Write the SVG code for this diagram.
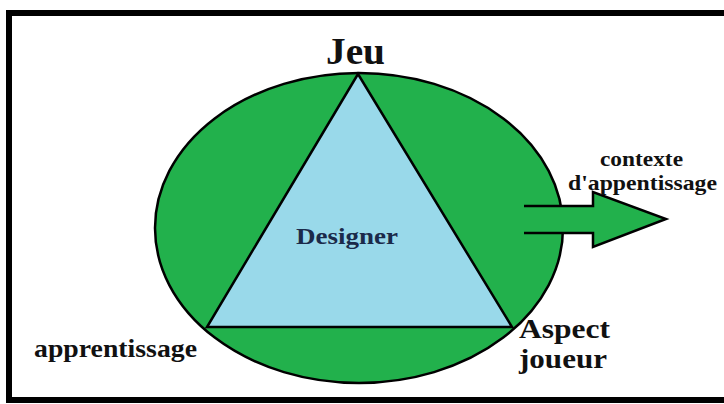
<svg xmlns="http://www.w3.org/2000/svg" width="724" height="404" viewBox="0 0 724 404">
<style>
.t{font-family:"Liberation Serif","Times New Roman",serif;font-weight:bold;fill:#111}
.ln{stroke:#000;stroke-width:2.5;fill:none}
</style>
<rect x="0" y="0" width="724" height="404" fill="#fff"/>
<rect x="9" y="13" width="730" height="387" fill="none" stroke="#000" stroke-width="6"/>
<g id="cercle">
<ellipse cx="359" cy="228" rx="204" ry="155" fill="#22b14c" stroke="#000" stroke-width="2.5"/>
</g>
<g id="fleche">
<polygon points="524,206 593,206 593,192 666,219 593,247 593,233 524,233" fill="#22b14c"/>
<polyline class="ln" points="524,206 593,206 593,192 666,219 593,247 593,233 524,233"/>
</g>
<g id="triangle">
<polygon points="358,74 207,327 512,327" fill="#99d9ea" stroke="#000" stroke-width="2.5" stroke-linejoin="miter"/>
</g>
<g id="labels">
<text class="t" x="355.5" y="64" font-size="37" text-anchor="middle" textLength="59" lengthAdjust="spacingAndGlyphs">Jeu</text>
<text class="t" x="347" y="244" font-size="24" text-anchor="middle" textLength="102" lengthAdjust="spacingAndGlyphs" style="fill:#1b2a4a">Designer</text>
<text class="t" x="641.5" y="166" font-size="22" text-anchor="middle" textLength="83" lengthAdjust="spacingAndGlyphs">contexte</text>
<text class="t" x="642.5" y="190" font-size="22" text-anchor="middle" textLength="149" lengthAdjust="spacingAndGlyphs">d'appentissage</text>
<text class="t" x="34" y="357" font-size="26" textLength="163" lengthAdjust="spacingAndGlyphs">apprentissage</text>
<text class="t" x="519" y="338" font-size="26.5" textLength="91" lengthAdjust="spacingAndGlyphs">Aspect</text>
<text class="t" x="519" y="368" font-size="26.5" textLength="88" lengthAdjust="spacingAndGlyphs">joueur</text>
</g>
</svg>
